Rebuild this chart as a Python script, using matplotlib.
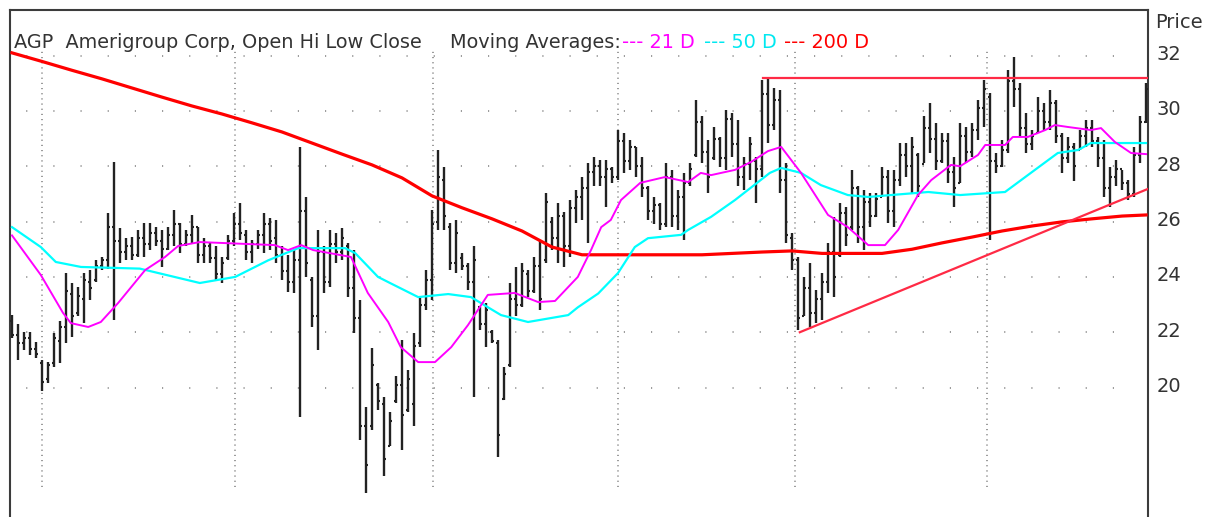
import numpy as np
import matplotlib
matplotlib.use("Agg")
import matplotlib.pyplot as plt

# daily OHLC bars (one bar every ~6 px)
highs = [22.63, 22.30, 22.02, 22.02, 21.66, 21.00, 20.94, 21.96, 22.40, 24.13,
         23.77, 23.65, 24.13, 24.25, 24.60, 24.73, 26.30, 28.17, 25.76, 25.40,
         25.46, 25.70, 25.94, 25.94, 25.82, 25.70, 25.82, 26.42, 25.94, 25.70,
         26.24, 25.82, 25.40, 25.22, 25.10, 24.73, 25.50, 26.30, 26.66, 25.70,
         25.34, 25.70, 26.30, 26.12, 26.06, 25.10, 24.80, 24.97, 28.71, 26.90,
         24.01, 25.70, 25.10, 25.70, 25.58, 25.76, 25.22, 24.97, 23.17, 19.30,
         21.42, 20.16, 19.66, 19.10, 20.40, 21.72, 20.64, 21.96, 23.29, 24.25,
         26.42, 28.59, 27.99, 25.94, 26.06, 24.85, 24.49, 25.10, 22.93, 23.05,
         22.08, 21.72, 20.76, 23.77, 24.37, 24.49, 24.25, 24.73, 25.34, 27.02,
         26.18, 26.66, 26.36, 26.78, 27.14, 27.60, 28.11, 28.35, 28.23, 28.23,
         27.99, 29.31, 29.19, 28.95, 28.71, 28.35, 27.27, 26.90, 26.66, 28.11,
         27.87, 27.14, 27.75, 28.11, 30.40, 29.80, 28.95, 29.43, 29.07, 30.04,
         29.92, 29.67, 28.35, 29.07, 28.35, 31.12, 31.24, 30.82, 30.76, 28.11,
         25.58, 24.73, 24.01, 24.49, 23.53, 24.13, 25.22, 26.18, 26.66, 26.54,
         27.87, 27.27, 27.14, 27.02, 27.02, 27.99, 27.87, 27.87, 28.83, 28.83,
         29.07, 28.47, 29.80, 30.28, 29.55, 29.19, 29.19, 28.35, 29.55, 29.43,
         29.55, 30.40, 31.12, 30.64, 28.47, 28.95, 31.48, 31.96, 31.00, 29.92,
         29.31, 30.52, 30.28, 30.76, 30.40, 29.19, 29.07, 28.83, 29.31, 29.67,
         29.67, 29.07, 28.95, 27.99, 28.23, 27.87, 27.51, 28.71, 29.80, 31.00]
lows = [21.78, 21.00, 21.36, 21.18, 21.06, 19.86, 20.16, 20.76, 20.90, 21.60,
        21.84, 22.57, 22.33, 23.17, 23.80, 24.25, 24.30, 22.45, 24.49, 24.61,
        24.61, 24.73, 24.73, 24.97, 25.10, 24.37, 24.97, 25.10, 24.85, 25.10,
        25.22, 24.49, 24.49, 24.49, 23.85, 23.77, 24.61, 25.10, 25.34, 24.60,
        24.49, 25.00, 24.85, 24.97, 24.50, 23.90, 23.47, 23.41, 18.95, 24.01,
        22.20, 21.36, 23.41, 23.65, 24.50, 24.61, 23.29, 21.96, 18.10, 16.18,
        18.45, 19.20, 16.80, 17.87, 19.43, 17.75, 19.10, 18.60, 21.48, 22.80,
        23.17, 25.70, 25.70, 24.25, 24.13, 24.25, 23.53, 19.67, 22.08, 21.48,
        21.60, 17.50, 19.55, 20.76, 22.57, 22.93, 23.29, 23.41, 22.80, 24.49,
        24.97, 24.49, 24.37, 24.73, 25.94, 26.06, 25.22, 27.27, 27.27, 26.54,
        27.39, 27.50, 27.75, 27.87, 27.63, 26.90, 26.06, 25.90, 25.70, 25.82,
        25.82, 25.70, 25.34, 27.27, 28.35, 28.11, 27.02, 28.23, 27.99, 27.87,
        28.35, 27.27, 27.14, 27.51, 26.66, 27.63, 28.83, 29.31, 27.02, 25.22,
        24.25, 22.08, 22.57, 22.20, 22.33, 22.45, 23.41, 23.29, 24.73, 25.10,
        25.70, 25.22, 24.98, 25.82, 26.18, 26.90, 25.94, 25.82, 27.27, 27.63,
        27.02, 26.90, 28.11, 28.47, 27.87, 28.11, 27.39, 26.54, 27.39, 28.11,
        28.35, 28.95, 29.43, 25.34, 27.75, 27.99, 28.47, 30.16, 29.07, 28.47,
        28.59, 29.19, 29.31, 29.31, 28.83, 27.75, 28.11, 27.45, 28.59, 28.71,
        28.71, 27.99, 26.90, 26.54, 27.27, 27.14, 26.78, 26.90, 28.11, 29.55]
opens = [22.4, 21.9, 21.6, 21.8, 21.4, 20.9, 20.3, 20.9, 21.7, 22.2,
         23.4, 22.7, 23.2, 23.8, 23.9, 24.4, 24.6, 25.8, 25.3, 24.9,
         25.1, 24.8, 25.4, 25.2, 25.6, 25.3, 25.0, 25.5, 25.9, 25.2,
         25.5, 25.8, 24.8, 25.1, 24.7, 24.1, 24.7, 25.3, 25.9, 25.5,
         24.9, 25.2, 25.5, 25.9, 25.4, 24.8, 24.2, 23.8, 24.6, 26.4,
         23.9, 22.6, 24.9, 23.8, 25.2, 24.9, 25.1, 23.6, 22.5, 18.6,
         18.6, 20.1, 19.4, 17.9, 19.5, 20.1, 19.2, 19.4, 21.6, 23.0,
         23.9, 26.0, 27.5, 25.8, 24.5, 24.7, 24.4, 23.8, 22.9, 22.3,
         22.0, 21.6, 19.6, 20.8, 23.2, 23.0, 24.1, 23.5, 24.4, 24.6,
         26.0, 25.4, 26.2, 25.1, 26.5, 26.9, 27.2, 27.8, 28.0, 27.6,
         27.9, 27.6, 28.9, 28.2, 28.7, 28.0, 27.2, 26.4, 26.6, 25.9,
         27.6, 26.2, 26.9, 27.4, 28.4, 29.6, 28.5, 28.3, 29.0, 28.3,
         29.7, 28.8, 27.6, 28.1, 28.2, 27.9, 30.6, 29.5, 30.4, 27.5,
         25.4, 24.6, 22.6, 23.6, 22.7, 23.2, 23.8, 24.9, 24.8, 26.3,
         25.8, 27.2, 25.8, 26.7, 26.2, 26.9, 27.6, 26.4, 27.5, 28.4,
         28.0, 28.4, 28.1, 29.4, 29.0, 28.2, 28.9, 27.8, 27.4, 29.1,
         28.5, 29.3, 30.1, 30.5, 28.2, 28.0, 28.6, 31.1, 30.8, 29.4,
         28.8, 29.2, 30.0, 29.6, 30.3, 29.1, 28.3, 28.7, 28.6, 29.1,
         29.4, 28.9, 28.3, 27.2, 27.6, 27.9, 27.4, 27.0, 28.4, 29.6]
closes = [21.9, 21.6, 21.8, 21.4, 21.2, 20.2, 20.8, 21.8, 22.2, 23.5,
          22.6, 23.3, 23.9, 23.6, 24.4, 24.6, 25.8, 25.3, 24.9, 25.1,
          24.8, 25.4, 25.2, 25.6, 25.3, 25.0, 25.5, 25.9, 25.2, 25.5,
          25.8, 24.8, 25.1, 24.7, 24.1, 24.5, 25.3, 25.9, 25.6, 24.9,
          25.2, 25.5, 25.9, 25.3, 24.8, 24.2, 23.8, 24.6, 26.4, 24.5,
          22.6, 24.9, 23.8, 25.2, 24.9, 25.4, 23.6, 22.5, 18.6, 17.2,
          20.8, 19.5, 17.4, 18.8, 20.1, 19.0, 20.3, 21.5, 23.0, 23.9,
          25.9, 27.6, 26.2, 24.5, 25.6, 24.4, 23.8, 24.6, 22.3, 22.8,
          21.7, 18.3, 20.5, 23.2, 23.0, 24.2, 23.5, 24.4, 23.2, 26.7,
          25.4, 26.2, 25.1, 26.5, 26.9, 27.2, 27.8, 28.0, 27.6, 27.9,
          27.6, 28.9, 28.2, 28.7, 28.0, 27.2, 26.4, 26.6, 25.9, 27.6,
          26.2, 26.9, 27.4, 27.9, 29.6, 28.5, 27.6, 29.0, 28.3, 29.7,
          28.8, 27.6, 28.1, 28.8, 27.9, 30.6, 29.5, 30.4, 27.5, 25.5,
          24.6, 22.5, 23.6, 22.7, 23.2, 23.8, 24.9, 24.0, 26.3, 25.5,
          27.2, 25.8, 26.7, 26.2, 26.8, 27.6, 26.4, 27.5, 28.4, 28.0,
          28.7, 27.3, 29.4, 29.0, 28.2, 28.9, 27.8, 27.2, 29.1, 28.5,
          29.3, 30.1, 30.8, 28.2, 28.0, 28.6, 31.1, 30.8, 29.4, 28.8,
          29.1, 30.0, 29.6, 30.3, 29.1, 28.3, 28.7, 28.0, 29.1, 29.4,
          28.9, 28.3, 27.2, 27.6, 27.9, 27.4, 27.0, 28.4, 29.6, 30.8]

# moving averages (bar index, price)
ma21_bar = [0, 4.8, 8.5, 9.8, 12.7, 14.8, 17.7, 22.2, 25.5, 27.7, 31.3, 43.8,
            46, 48.2, 50.2, 56.5, 59.3, 62.7, 64.8, 67.7, 70.5, 73.2, 76, 79.3,
            83.8, 87.7, 90.5, 94.3, 96.5, 98.2, 99.8, 101.5, 104.7, 108.8, 112.7,
            114.8, 116.5, 120.5, 123.2, 126, 128.2, 131.5, 136, 139.3, 142.7,
            145.5, 147.7, 151, 153.2, 156.5, 158, 161, 162.2, 165.5, 166.8,
            169.3, 172.2, 173.8, 176, 179.8, 181.5, 183.8, 186.5, 189]
ma21 = [25.5, 24.07, 22.7, 22.33, 22.19, 22.37, 23.06, 24.25, 24.72, 25.12,
        25.26, 25.15, 24.97, 25.15, 24.97, 24.72, 23.42, 22.37, 21.46, 20.92,
        20.92, 21.46, 22.26, 23.35, 23.42, 23.09, 23.13, 24.0, 24.97, 25.8,
        26.06, 26.78, 27.4, 27.61, 27.43, 27.76, 27.68, 27.87, 28.16, 28.55,
        28.7, 27.76, 26.24, 25.8, 25.15, 25.15, 25.7, 26.96, 27.5, 28.05,
        28.0, 28.41, 28.77, 28.77, 29.06, 29.06, 29.31, 29.49, 29.42, 29.31,
        29.38, 28.88, 28.48, 28.44]
ma50_bar = [0, 4.8, 7.3, 11.5, 21.3, 31.3, 37.2, 42.7, 47.7, 55.5, 57.2, 61,
            63, 67.7, 72.7, 76.5, 81.5, 86, 92.7, 94.3, 97.7, 101, 103.8, 106,
            111.5, 112.7, 116.5, 120.5, 126.3, 128.2, 131.5, 134.8, 139.3,
            142.7, 146.5, 152.7, 158, 165.5, 169.8, 174.3, 177.7, 179.8, 189]
ma50 = [25.8, 25.08, 24.54, 24.36, 24.3, 23.78, 24.0, 24.6, 25.04, 25.04,
        24.86, 24.0, 23.78, 23.27, 23.38, 23.27, 22.62, 22.37, 22.62, 22.9,
        23.4, 24.14, 25.08, 25.4, 25.52, 25.7, 26.17, 26.78, 27.76, 27.94,
        27.76, 27.32, 26.96, 26.89, 26.96, 27.07, 26.96, 27.07, 27.76, 28.48,
        28.59, 28.84, 28.84]
ma200_bar = [0, 5, 10, 15, 20, 25, 30, 35, 40, 45, 50, 55, 60, 65, 70, 75, 80,
             85, 90, 95, 100, 105, 110, 115, 120, 125, 130, 135, 140, 145, 150,
             155, 160, 165, 170, 175, 180, 185, 189]
ma200 = [32.1, 31.79, 31.47, 31.16, 30.83, 30.5, 30.18, 29.89, 29.57, 29.24,
         28.84, 28.44, 28.05, 27.58, 26.93, 26.5, 26.1, 25.66, 25.08, 24.8,
         24.8, 24.8, 24.8, 24.8, 24.85, 24.9, 24.94, 24.85, 24.85, 24.85, 25.0,
         25.23, 25.44, 25.66, 25.84, 25.99, 26.1, 26.2, 26.24]

# drawn trend lines (bar index, price)
resist_bar = [125.2, 189.3]
resist_px = [31.2, 31.2]
support_bar = [131.3, 189.3]
support_px = [22.0, 27.18]

price_ticks = [20, 22, 24, 26, 28, 30, 32]
month_marks = [5.0, 37.2, 70.2, 101.0, 130.5, 162.5]

W, H = 1209, 517
fig = plt.figure(figsize=(W / 100, H / 100), dpi=100)
ax = fig.add_axes([10 / W, 0, 1138 / W, 507 / H])
ax.set_xlim(-1 / 3, 189.33)
ax.set_ylim(15.32, 33.65)

# dotted grid
ax.hlines(price_ticks, -3.3, 187, colors="#8a8a8a", lw=1.2,
          linestyles=(0, (0.7, 15.6)))
ax.vlines(month_marks, 16.4, 32.2, colors="#8a8a8a", lw=1.2,
          linestyles=(0, (0.7, 2.4)))

x = np.arange(len(highs))
bar_col = "#222222"
ax.vlines(x, lows, highs, colors=bar_col, lw=1.7, zorder=3)
ax.hlines(opens, x - 0.4, x, colors=bar_col, lw=1.5, zorder=3)
ax.hlines(closes, x, x + 0.4, colors=bar_col, lw=1.5, zorder=3)

ax.plot(ma200_bar, ma200, color="#ff0000", lw=2.3, zorder=4)
ax.plot(ma50_bar, ma50, color="#00ffff", lw=1.6, zorder=4)
ax.plot(ma21_bar, ma21, color="#ff00ff", lw=1.4, zorder=4)
ax.plot(resist_bar, resist_px, color="#ff2a45", lw=1.6, zorder=4)
ax.plot(support_bar, support_px, color="#ff2a45", lw=1.6, zorder=4)

for s in ["left", "top", "right"]:
    ax.spines[s].set_color("#3c3c3c")
    ax.spines[s].set_linewidth(1.5)
ax.spines["bottom"].set_visible(False)
ax.set_xticks([])
ax.set_yticks([])

lab = dict(fontsize=14, va="center", color="#333333")
ytr = ax.get_yaxis_transform()
for v in price_ticks:
    ax.text(1.0075, v + 0.04, str(v), transform=ytr, ha="left", **lab)
fig.text(1155 / W, 1 - 22 / H, "Price", **lab)

txt = dict(fontsize=13.9, va="center", color="#333333")
fig.text(14 / W, 1 - 42 / H, "AGP  Amerigroup Corp, Open Hi Low Close", **txt)
fig.text(450 / W, 1 - 42 / H, "Moving Averages:", **txt)
fig.text(622 / W, 1 - 42 / H, "--- 21 D", **{**txt, "color": "#ff00ff"})
fig.text(704 / W, 1 - 42 / H, "--- 50 D", **{**txt, "color": "#00e8f0"})
fig.text(784 / W, 1 - 42 / H, "--- 200 D", **{**txt, "color": "#ff0000"})

fig.savefig("out.png", dpi=100, facecolor="white")
